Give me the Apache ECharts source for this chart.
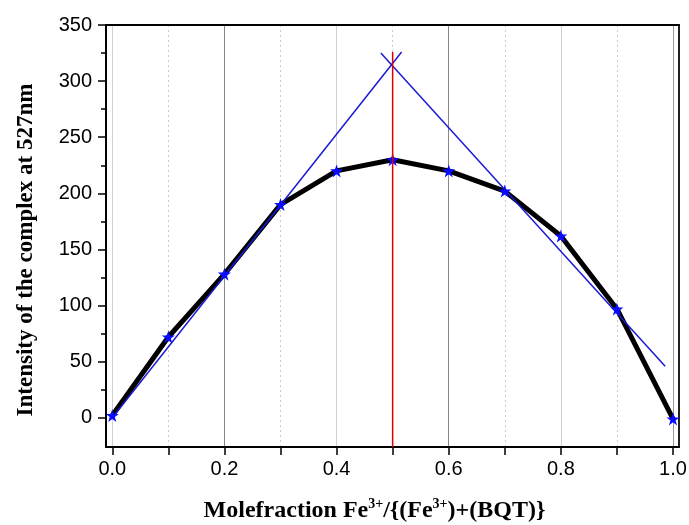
<!DOCTYPE html>
<html>
<head>
<meta charset="utf-8">
<script src="https://cdn.jsdelivr.net/npm/echarts@6/dist/echarts.min.js"></script>
<style>html,body{margin:0;padding:0;background:#fff;}#chart{width:689px;height:525px;}</style>
</head>
<body>
<div id="chart"></div>
<script>
const moleFraction = [0, 0.1, 0.2, 0.3, 0.4, 0.5, 0.6, 0.7, 0.8, 0.9, 1.0];
const intensity = [2, 72, 128, 190, 220, 230, 220, 202, 162, 97, -1];
const fitLeft = [[0, 0], [0.516, 326]];
const fitRight = [[0.479, 325], [0.986, 46]];
const stoichX = 0.5;
const stoichTop = 326;
const xMin = -0.0112, xMax = 1.0107;
const yMin = -26, yMax = 350;
const xMajorTicks = [0, 0.2, 0.4, 0.6, 0.8, 1.0];
const xAllTicks = [0, 0.1, 0.2, 0.3, 0.4, 0.5, 0.6, 0.7, 0.8, 0.9, 1.0];
const yMajorTicks = [0, 50, 100, 150, 200, 250, 300, 350];
const yMinorTicks = [25, 75, 125, 175, 225, 275, 325];

const STAR = 'path://M50,0 L61.8,35.1 L98.9,35.1 L69.1,56.7 L80.9,91.9 L50,70.2 L19.1,91.9 L30.9,56.7 L1.1,35.1 L38.2,35.1 Z';
const chart = echarts.init(document.getElementById('chart'), null, {renderer: 'canvas'});
const labelFont = {fontFamily: 'Liberation Sans, Arial', fontSize: 20, color: '#000'};
const option = {
  animation: false,
  backgroundColor: '#fff',
  grid: {left: 106, right: 10, top: 25, bottom: 78, containLabel: false, outerBoundsMode: 'none'},
  xAxis: [
    {
      type: 'value', position: 'bottom', min: xMin, max: xMax,
      axisLine: {show: true, onZero: false, lineStyle: {color: '#000', width: 2}},
      axisTick: {show: true, customValues: xAllTicks, length: 8, inside: false, lineStyle: {color: '#000', width: 1.5}},
      axisLabel: Object.assign({show: true, customValues: xMajorTicks, margin: 12, formatter: v => v.toFixed(1)}, labelFont),
      splitLine: {show: true, lineStyle: {color: '#c8c8c8', width: 1, type: [2, 3]}},
      name: 'Molefraction Fe{sup|3+}/{(Fe{sup|3+})+(BQT)}',
      nameLocation: 'middle', nameGap: 50,
      nameTextStyle: {
        fontFamily: 'Liberation Serif, Times New Roman', fontWeight: 'bold', fontSize: 24, color: '#000',
        lineHeight: 28, padding: [0, 36, 0, 0],
        rich: {sup: {fontFamily: 'Liberation Serif', fontWeight: 'bold', fontSize: 14, color: '#000', verticalAlign: 'top', lineHeight: 14}}
      }
    },
    {
      type: 'value', position: 'top', min: xMin, max: xMax,
      axisLine: {show: true, onZero: false, lineStyle: {color: '#000', width: 2}},
      axisTick: {show: false, customValues: xMajorTicks},
      axisLabel: {show: false, customValues: xMajorTicks},
      splitLine: {show: true, lineStyle: {color: ['#d0d0d0', '#888888', '#d0d0d0', '#888888', '#d0d0d0', '#999999'], width: 1}}
    }
  ],
  yAxis: [
    {
      type: 'value', position: 'left', min: yMin, max: yMax,
      axisLine: {show: true, onZero: false, lineStyle: {color: '#000', width: 2}},
      axisTick: {show: true, customValues: yMajorTicks, length: 8, lineStyle: {color: '#000', width: 1.5}},
      axisLabel: Object.assign({show: true, customValues: yMajorTicks, margin: 14}, labelFont),
      splitLine: {show: false},
      name: 'Intensity of the complex at 527nm',
      nameLocation: 'middle', nameGap: 68,
      nameTextStyle: {fontFamily: 'Liberation Serif, Times New Roman', fontWeight: 'bold', fontSize: 23, color: '#000', padding: [0, 28, 0, 0]}
    },
    {
      type: 'value', position: 'left', min: yMin, max: yMax,
      axisLine: {show: false, onZero: false},
      axisTick: {show: true, customValues: yMinorTicks, length: 5, lineStyle: {color: '#000', width: 1.5}},
      axisLabel: {show: false, customValues: yMinorTicks},
      splitLine: {show: false}
    },
    {
      type: 'value', position: 'right', min: yMin, max: yMax,
      axisLine: {show: true, onZero: false, lineStyle: {color: '#222', width: 2}},
      axisTick: {show: false, customValues: yMajorTicks},
      axisLabel: {show: false, customValues: yMajorTicks},
      splitLine: {show: false}
    }
  ],
  series: [
    {
      type: 'line', xAxisIndex: 0, yAxisIndex: 0, z: 3,
      data: moleFraction.map((x, i) => [x, intensity[i]]),
      showSymbol: false, symbol: 'none',
      lineStyle: {color: '#000', width: 5}
    },
    {
      type: 'line', xAxisIndex: 0, yAxisIndex: 0, z: 4,
      data: fitLeft, symbol: 'none',
      lineStyle: {color: '#1a1ad6', width: 1.5}
    },
    {
      type: 'line', xAxisIndex: 0, yAxisIndex: 0, z: 4,
      data: fitRight, symbol: 'none',
      lineStyle: {color: '#1a1ad6', width: 1.5}
    },
    {
      type: 'line', xAxisIndex: 0, yAxisIndex: 0, z: 5,
      data: moleFraction.map((x, i) => [x, intensity[i]]),
      symbol: STAR, symbolSize: 13, showSymbol: true,
      lineStyle: {opacity: 0, width: 0},
      itemStyle: {color: '#0a0aff'}
    },
    {
      type: 'line', xAxisIndex: 0, yAxisIndex: 0, z: 6,
      data: [[stoichX, stoichTop], [stoichX, yMin]], symbol: 'none',
      lineStyle: {color: '#e00000', width: 1.5}
    }
  ]
};
chart.setOption(option);
</script>
</body>
</html>
